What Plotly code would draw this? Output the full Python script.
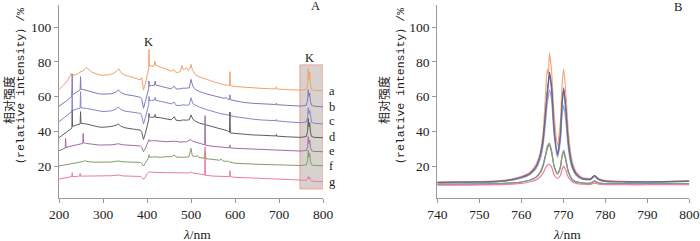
import plotly.graph_objects as go

# ---------------- Panel A data (wavelength nm, relative intensity %) ----------------
spec_a = [(200,64.1),(210,66.5),(220,69.5),(226,72),(228,73.2),(231,72.2),(240,72.8),(250,74.3),(256,75),(262,76.8),(266,75.8),(275,74),(290,72.6),(300,72.2),(315,72.6),(325,73.5),(332,75),(336,76),(340,74),(348,72.5),(360,71.6),(375,70.6),(385,69.6),(388,71),(390,67),(392,63.7),(395,66),(399,70),(402,74.3),(403.8,76),(404.5,87.1),(405.3,77.5),(410,77.6),(416,77.5),(418,80.4),(420,78),(430,77),(445,75.8),(455,74.5),(461,75.6),(464,74.2),(470,73.8),(476,74.5),(479,77.8),(482,75.5),(487,75.8),(490,76.6),(494,75),(498,76.5),(500,78.5),(503,75.5),(510,72.5),(520,71.2),(535,69.8),(550,68.5),(565,67.4),(580,66.6),(587.5,66.3),(588.5,74.3),(589.5,66.3),(600,65.8),(620,65.3),(640,65),(660,64.7),(680,64.5),(692.5,64.4),(694,65.6),(695.5,64.3),(720,64),(750,63.7),(762,64.2),(765,67),(766.5,76.2),(768,70),(769.8,74),(771.5,67),(774,64),(780,63.6),(800,63.4)]
spec_b = [(200,54.5),(210,56.3),(220,58),(227,59.8),(229.3,60.2),(230,73),(230.8,61),(240,62.6),(248,63.8),(249,71.4),(250,64.2),(256,64),(262,63.6),(275,62.6),(290,61.6),(300,61.4),(320,61.6),(330,62.6),(335,63.8),(340,62.4),(350,61.2),(370,60.4),(385,59.5),(388,58.5),(392,53.2),(396,57),(400,61),(403.8,64.5),(404.5,69),(405.5,66),(410,66.3),(417,66.5),(418.5,68.9),(420,66.6),(430,66),(445,65.2),(455,64.4),(462,66),(466,64.4),(475,64.3),(480,64.8),(490,64.8),(496,65),(500,69.9),(504,66),(510,64),(520,62.8),(535,61.5),(550,60.5),(565,59.5),(575,59),(579,59.4),(583,58.6),(587.5,58.3),(588.5,61),(589.5,58.1),(600,57.5),(620,56.6),(640,56.1),(660,55.7),(680,55.5),(693,55.4),(694,56.2),(695,55.3),(720,54.9),(750,54.5),(762,55),(765,58),(766.5,64),(768,60),(769.8,62),(771.5,57),(774,55),(780,54.4),(800,54.1)]
spec_c = [(200,45.5),(210,47.5),(220,49.4),(227,51),(229.3,51.4),(230,64),(230.8,52),(240,52.8),(248,53.3),(249,62.8),(250,53.5),(262,53.2),(275,52.4),(290,51.6),(300,51.3),(320,51.8),(330,52.8),(335,54.1),(340,52.6),(350,51.6),(370,50.8),(385,50.3),(388,49),(392,44.2),(396,47.5),(400,52),(403.8,55.5),(404.5,60),(405.5,57.5),(410,57.8),(417,58),(418.5,59.5),(420,57.8),(430,57.3),(445,56.6),(455,55.8),(462,56.8),(466,55),(475,54.8),(480,55.2),(490,55),(496,55.3),(500,59.3),(504,56),(510,55),(520,53.8),(535,52.5),(550,51.3),(565,50.3),(575,49.8),(583,49.4),(587.5,49.2),(588.5,51),(589.5,49),(600,48.4),(620,47.5),(640,47),(660,46.5),(680,46.3),(693,46.1),(694,46.8),(695,46),(720,45.4),(750,44.9),(762,45.3),(765,48),(766.5,53.5),(768,50),(769.8,52),(771.5,47.5),(774,45.2),(780,44.6),(800,44.2)]
spec_d = [(200,36.3),(210,38),(220,39.8),(227,41.4),(229.3,41.8),(230,52),(230.8,42.8),(240,43.6),(248,44.2),(249,51.3),(250,44.6),(262,44.2),(275,43.3),(290,42.5),(300,42.3),(320,42.8),(330,43.5),(335,44.2),(340,43),(350,42),(370,41.2),(385,40.7),(388,39.5),(392,35.3),(396,38.5),(400,43),(403.8,46.5),(404.5,50.3),(405.5,48.3),(410,48),(417,48.2),(418.5,49.7),(420,48),(430,47.8),(445,47.2),(455,46.6),(462,48.4),(466,46.4),(475,46),(480,46.5),(490,46.4),(496,46.6),(500,49.4),(504,47),(510,45.8),(520,44.6),(535,43.6),(550,42.6),(565,41.6),(575,40.8),(580,40.8),(583,40.3),(587.5,39.4),(588.5,51),(589.5,39),(600,38.7),(620,38.2),(640,37.9),(660,37.7),(680,37.5),(693,37.3),(694,38.2),(695,37.2),(720,36.8),(750,36.5),(762,37),(765,40),(766.5,47.4),(768,42.5),(769.8,45),(771.5,39.5),(774,37),(780,36.5),(800,36.3)]
spec_e = [(200,28.8),(208,29.8),(214,30.3),(215,35.9),(216,30.6),(225,31.3),(240,32),(250,32.6),(254.2,33),(255,38.8),(255.8,33.4),(262,33),(275,32.5),(290,32.1),(300,32.1),(320,32.2),(335,32.8),(345,32.2),(370,31.8),(385,31.5),(388,30.8),(392,28.2),(396,30),(400,32.5),(403.8,34),(404.5,35.2),(405.5,34.4),(418,34.6),(430,34.3),(445,34),(462,34.3),(475,33.8),(490,34),(500,35.3),(504,34.2),(520,33),(531.3,32.2),(532,49),(532.7,32),(550,31.3),(570,30.8),(587.5,30.5),(588.5,32.1),(589.5,30.4),(600,30.2),(650,29.6),(694,29.2),(720,28.9),(750,28.6),(762,29),(765,31),(766.5,36.9),(768,33),(769.8,35),(771.5,30.5),(774,28.8),(780,28.4),(800,28.2)]
spec_f = [(200,20),(215,20.8),(230,21.5),(250,22.3),(256,22.6),(258,23.2),(262,22.6),(280,22.2),(300,22.1),(320,22.3),(335,22.9),(345,22.4),(370,22.2),(385,22.1),(388,21.5),(392,20),(396,21.5),(400,23.5),(403.8,25),(404.5,26.5),(405.5,25),(418,25.3),(430,25),(445,25.4),(455,25.3),(462,26.4),(466,25.2),(480,25),(495,25.2),(500,30.2),(503,25.8),(510,25.4),(515,26),(518,25),(525,24.5),(530,24.4),(532,28.5),(534,24.2),(550,23.8),(565,23.3),(568,24),(572,23),(580,22.6),(583,23),(586,22.4),(600,21.6),(650,21),(700,20.6),(750,20.3),(762,20.7),(765,23),(766.5,29.2),(768,25),(769.8,27.5),(771.5,22.5),(774,20.7),(780,20.3),(800,20.2)]
spec_g = [(200,12.5),(215,13.3),(229.3,13.9),(230,16.2),(230.8,13.9),(240,14),(247.2,14.2),(248,15.8),(248.8,14.2),(262,14.2),(300,14.2),(320,14.4),(335,14.8),(345,14.3),(370,14.1),(385,14),(388,13.5),(392,12.3),(396,13.5),(400,15.5),(404.5,16.7),(410,16.4),(440,16.2),(480,16),(496,16),(500,16.6),(504,16),(520,15.4),(531.3,14.8),(532,31),(532.7,14.7),(550,14.2),(570,14),(587.5,13.9),(588.5,17.3),(589.5,13.8),(600,13.5),(650,13),(700,12.5),(750,11.6),(762,11.8),(765,12.5),(766.5,14),(768,12.6),(769.8,13.5),(771.5,12),(774,11.4),(780,11.2),(800,11)]

# ---------------- Panel B data (K doublet region) ----------------
wl_b = [740, 745, 750, 755, 758, 760, 762, 763.5, 764.5, 765.2, 765.8, 766.2, 766.45, 766.7, 767.2, 767.8, 768.6, 769.3, 769.7, 770.1, 770.6, 771.2, 772, 773, 774.5, 776.5, 777.4, 778.5, 780, 785, 790, 795, 800]
kb_a = [10.8, 10.9, 11.0, 11.6, 12.6, 14.0, 16.5, 21, 28, 40, 62, 76, 73, 85, 75, 50, 32, 45, 66, 76, 62, 40, 24, 17, 13.5, 12.8, 14.5, 12.8, 11.8, 11.2, 11.0, 11.2, 11.5]
kb_b = [10.5, 10.6, 10.7, 11.2, 12.2, 13.4, 15.5, 19.5, 26, 36, 52, 63, 69, 74, 66, 42, 27, 38, 56, 65, 53, 34, 21.5, 15.8, 12.8, 12.5, 14.5, 12.2, 11.3, 10.9, 10.8, 11, 11.2]
kb_c = [10.3, 10.4, 10.5, 11.0, 11.9, 13.0, 15, 18.5, 24, 32, 46, 56, 60, 64, 58, 38, 25, 34, 49, 55, 46, 30, 19.5, 14.8, 12.4, 12.1, 14, 11.9, 11.1, 10.8, 10.7, 10.9, 11.1]
kb_d = [10.6, 10.7, 10.8, 11.3, 12.3, 13.5, 15.6, 19.6, 26, 35, 51, 62, 67, 72, 64, 41, 26.5, 37, 55, 64, 52, 33, 21, 15.5, 12.7, 12.4, 14.3, 12.1, 11.2, 10.9, 10.8, 11, 11.3]
kb_e = [9.6, 9.6, 9.7, 9.9, 10.3, 10.8, 11.8, 13.5, 16, 20, 26, 30, 31.5, 32, 28, 20, 15.5, 19, 25.5, 28, 23, 16.5, 12.5, 10.8, 10.2, 10.1, 11.2, 10.1, 9.9, 9.8, 9.8, 9.8, 9.9]
kb_f = [9.4, 9.5, 9.6, 9.8, 10.2, 10.8, 11.8, 13.6, 16.5, 21, 27, 31.5, 32.5, 33, 29, 20, 15.5, 19.5, 26, 29, 24, 17, 12.8, 11, 10.3, 10.1, 11.5, 10.2, 9.9, 9.7, 9.7, 9.8, 9.8]
kb_g = [9.0, 9.0, 9.1, 9.3, 9.6, 10.0, 10.8, 12, 13.8, 16, 19, 20.5, 21, 21, 19.5, 15, 12.8, 14.5, 18, 20, 17.5, 13.5, 11.2, 10, 9.5, 9.4, 10.2, 9.5, 9.3, 9.2, 9.2, 9.3, 9.3]

labels = ["a", "b", "c", "d", "e", "f", "g"]
colors = ["#f4a06c", "#8a74bc", "#8288cc", "#5e5e5e", "#a46aa8", "#7f9e68", "#ec7aa0"]
colors_b = ["#f6a878", "#5a5aa8", "#9aa0d8", "#6a6a8a", "#9a70a6", "#7fa070", "#ee7ca2"]
specs_a = [spec_a, spec_b, spec_c, spec_d, spec_e, spec_f, spec_g]
specs_b = [kb_a, kb_b, kb_c, kb_d, kb_e, kb_f, kb_g]

xticks_a = [200, 300, 400, 500, 600, 700, 800]
xticks_b = [740, 750, 760, 770, 780, 790, 800]
yticks = [20, 40, 60, 80, 100]
label_y = [63.2, 54.0, 45.7, 36.9, 28.6, 20.2, 10.8]

fig = go.Figure()
for lab, col, sp in zip(labels, colors, specs_a):
    fig.add_trace(go.Scatter(x=[p[0] for p in sp], y=[p[1] for p in sp], mode="lines",
                             line=dict(color=col, width=1), name=lab, xaxis="x", yaxis="y",
                             showlegend=False))
for lab, col, ys in zip(labels, colors_b, specs_b):
    fig.add_trace(go.Scatter(x=wl_b, y=ys, mode="lines",
                             line=dict(color=col, width=1.2, shape="spline", smoothing=0.6),
                             name=lab, xaxis="x2", yaxis="y2", showlegend=False))

W, H = 700, 241
def px(x): return x / W
def py(y): return 1 - y / H

serif = "Liberation Serif"
tickfont = dict(family=serif, size=13.5, color="#222")
axcommon = dict(showline=True, linecolor="#9a9a9a", linewidth=1, ticks="outside", ticklen=4,
                tickcolor="#9a9a9a", showgrid=False, zeroline=False, tickfont=tickfont,
                automargin=False)
yr = [1.58, 112.7]

fig.update_layout(
    width=W, height=H, margin=dict(l=0, r=0, t=0, b=0, autoexpand=False),
    paper_bgcolor="white", plot_bgcolor="white", showlegend=False,
    xaxis=dict(domain=[px(59), px(323)], range=[200, 800], tickvals=xticks_a, anchor="y", **axcommon),
    yaxis=dict(domain=[py(198), py(5)], range=yr, tickvals=yticks, anchor="x", **axcommon),
    xaxis2=dict(domain=[px(437.3), px(689.3)], range=[740, 800], tickvals=xticks_b, anchor="y2", **axcommon),
    yaxis2=dict(domain=[py(198), py(5)], range=yr, tickvals=yticks, anchor="x2", **axcommon),
)

# shaded K region in panel A
fig.add_shape(type="rect", xref="x", yref="y", x0=747.5, x1=800, y0=6.8, y1=78.2,
              fillcolor="#d8d2ce", line=dict(color="#f0a494", width=1), layer="below")

ann = []
for lab, yv in zip(labels, label_y):
    ann.append(dict(x=px(327), y=yv, xref="paper", yref="y", text=lab, showarrow=False,
                    xanchor="left", yanchor="middle", font=dict(family=serif, size=12.5, color="#222")))
ann.append(dict(x=404.5, y=91.4, xref="x", yref="y", text="K", showarrow=False,
                xanchor="center", yanchor="middle", font=dict(family=serif, size=12.5, color="#222")))
ann.append(dict(x=770, y=82.3, xref="x", yref="y", text="K", showarrow=False,
                xanchor="center", yanchor="middle", font=dict(family=serif, size=12.5, color="#222")))
ann.append(dict(x=px(315), y=py(6), xref="paper", yref="paper", text="A", showarrow=False,
                xanchor="center", yanchor="middle", font=dict(family=serif, size=12.5, color="#222")))
ann.append(dict(x=px(678), y=py(7), xref="paper", yref="paper", text="B", showarrow=False,
                xanchor="center", yanchor="middle", font=dict(family=serif, size=12.5, color="#222")))
for x1, x2, cx in [(8, 20, 197), (383, 400, 567)]:
    ann.append(dict(x=px(x1), y=py(100), xref="paper", yref="paper", text="相对强度", textangle=-90,
                    xanchor="center", yanchor="middle", showarrow=False,
                    font=dict(family="Noto Sans CJK SC", size=12, color="#222")))
    ann.append(dict(x=px(x2), y=py(89), xref="paper", yref="paper", text="（relative intensity）/%",
                    textangle=-90, xanchor="center", yanchor="middle", showarrow=False,
                    font=dict(family="Liberation Mono", size=11.5, color="#222")))
    ann.append(dict(x=px(cx), y=py(234), xref="paper", yref="paper", text="<i>λ</i>/nm",
                    xanchor="center", yanchor="middle", showarrow=False,
                    font=dict(family=serif, size=13.5, color="#222")))
fig.update_layout(annotations=ann)

fig.write_html("out.html", config={"displayModeBar": False},
               post_script="document.body.style.margin='0px';document.body.style.overflow='hidden';")
